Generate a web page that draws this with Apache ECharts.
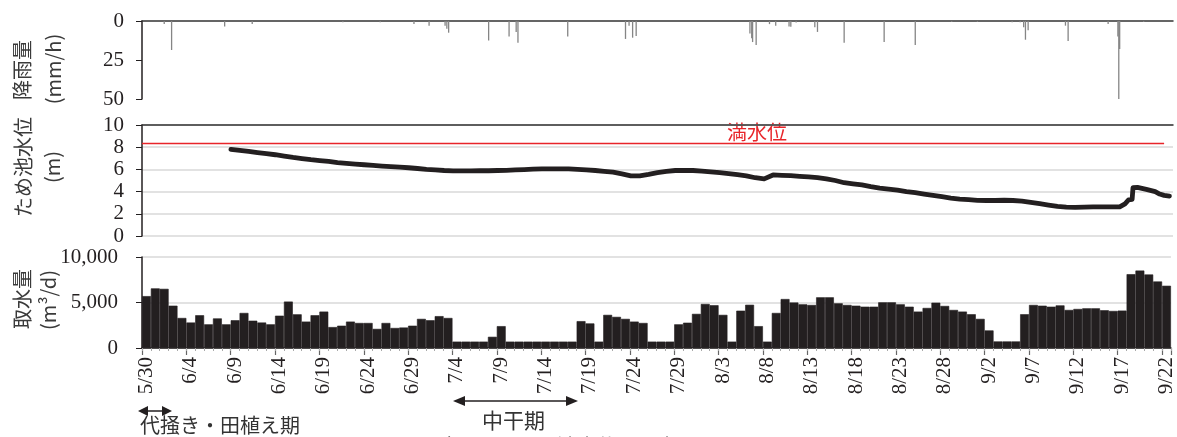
<!DOCTYPE html>
<html><head><meta charset="utf-8">
<script src="https://cdn.jsdelivr.net/npm/echarts@6/dist/echarts.min.js"></script>
<style>html,body{margin:0;padding:0;background:#fff}#c{width:1177px;height:437px}</style>
</head><body><div id="c"></div>
<script>
// ---- data ----
const START_YEAR = 2021, START_MONTH = 4, START_DAY = 30, DAY_COUNT = 116;
const categories = [];
for (let i = 0; i < DAY_COUNT; i++) {
  const d = new Date(START_YEAR, START_MONTH, START_DAY + i);
  categories.push((d.getMonth() + 1) + '/' + d.getDate());
}
// daily water intake (m3/d), one per category
const intake = [
  5700,6550,6500,4650,3300,2800,3600,2600,3250,2600,
  3050,3850,3000,2800,2600,3550,5100,3700,2900,3600,
  4000,2300,2450,2900,2750,2750,2100,2750,2200,2250,
  2450,3200,3050,3500,3300,700,700,700,700,1230,
  2400,700,700,700,700,700,700,700,700,2950,
  2700,700,3640,3420,3200,2900,2750,700,700,700,
  2600,2780,3750,4840,4700,3640,700,4100,4750,2400,
  700,3850,5380,5000,4800,4730,5570,5570,4910,4730,
  4650,4540,4540,5020,5020,4800,4540,4000,4400,4980,
  4620,4180,4000,3710,3200,1930,720,720,720,3710,
  4730,4650,4540,4680,4180,4290,4360,4360,4150,4070,
  4110,8110,8510,8080,7310,6840
];
// reservoir level (m): day offset from 5/30, value
const levelDays = [10,11,12,13,14,15,16,17,18,19,20,21,22,23,24,25,26,27,28,29,
  30,31,32,33,34,35,36,37,38,39,40,41,42,43,44,45,46,47,48,49,
  50,51,52,53,54,55,56,57,58,59,60,61,62,63,64,65,66,67,68,69,
  70,71,72,73,74,75,76,77,78,79,80,81,82,83,84,85,86,87,88,89,
  90,91,92,93,94,95,96,97,98,99,100,101,102,103,104,105,106,107,108,109,
  110,110.6,111,111.4,111.5,112,113,114,114.5,115,115.6];
const levelValues = [7.8,7.72,7.62,7.52,7.42,7.32,7.2,7.08,6.98,6.88,6.8,6.72,6.62,6.55,6.48,6.42,6.36,6.3,6.25,6.2,
  6.15,6.08,6.0,5.95,5.9,5.87,5.87,5.87,5.88,5.88,5.9,5.92,5.95,5.98,6.02,6.05,6.05,6.05,6.05,6.0,
  5.95,5.9,5.82,5.75,5.6,5.42,5.42,5.55,5.7,5.82,5.9,5.92,5.9,5.85,5.78,5.7,5.62,5.52,5.42,5.25,
  5.15,5.5,5.47,5.44,5.38,5.32,5.26,5.15,5.0,4.8,4.7,4.6,4.45,4.32,4.23,4.14,4.0,3.9,3.78,3.66,
  3.54,3.42,3.33,3.27,3.21,3.2,3.2,3.22,3.2,3.15,3.03,2.91,2.79,2.67,2.61,2.58,2.6,2.63,2.63,2.63,
  2.63,2.9,3.25,3.3,4.35,4.38,4.2,4.0,3.78,3.66,3.6];
const FULL_LEVEL = 8.4;
// hourly rainfall (mm/h): day offset from 5/30, value
const rainDays = [2.5,3.33,9.3,12.4,22.6,26.8,30.6,32.3,34.1,34.3,34.5,39.0,41.3,42.1,42.3,47.9,
  54.4,54.8,55.2,55.6,68.4,68.6,68.7,69.1,70.6,71.3,72.8,73.0,73.6,75.7,76.0,79.0,83.5,87.0,
  91.1,94.0,97.9,98.8,99.2,99.4,99.7,103.9,104.2,108.7,109.8,109.9,110.0,112.7];
const rainValues = [2,18.6,3.5,2,0.8,0.8,2,3,3,5,7.5,12.5,10,7,14,10,
  11.5,3,10.7,9.6,8,11,13.5,15.4,2,3,3.5,3.7,1,4,7,14,13.5,15.4,
  0.6,0.6,0.8,0.8,4,12,6,3,12.8,2,10,50,18,0.6];
const rainTicks = [0,25,50];
const levelTicks = [0,2,4,6,8,10];
const intakeTicks = [0,5000,10000];

// ---- chart ----
const FONT = "'Liberation Serif','Times New Roman',serif";
const JFONT = "'Noto Sans CJK JP',sans-serif";
const INK = '#231f20';
const chart = echarts.init(document.getElementById('c'), null, {renderer:'canvas'});
const yLabel = (m) => ({fontSize:21, fontFamily:FONT, color:INK, margin:m});
function arrow(x1, x2, y, head, hh) {
  return {type:'group', children:[
    {type:'line', shape:{x1:x1+head-1, y1:y, x2:x2-head+1, y2:y}, style:{stroke:INK, lineWidth:1.5}},
    {type:'polygon', shape:{points:[[x1,y],[x1+head,y-hh],[x1+head,y+hh]]}, style:{fill:INK}},
    {type:'polygon', shape:{points:[[x2,y],[x2-head,y-hh],[x2-head,y+hh]]}, style:{fill:INK}}
  ]};
}
function vtext(txt, x, y) {
  return {type:'text', x:x, y:y, rotation:Math.PI/2,
    style:{text:txt, textAlign:'center', textVerticalAlign:'middle', fontSize:20, fontFamily:JFONT, fill:'#3a3a3a'}};
}
const option = {
  animation:false,
  backgroundColor:'#fff',
  grid:[
    {left:142, top:21, width:1031, height:78},
    {left:142, top:125, width:1031, height:111},
    {left:142, top:257, width:1031, height:91}
  ],
  xAxis:[
    {gridIndex:0, type:'value', min:0, max:DAY_COUNT, position:'top',
      axisLine:{show:true, onZero:false, lineStyle:{color:'#333', width:1.5}},
      axisTick:{show:false}, axisLabel:{show:false}, splitLine:{show:false}},
    {gridIndex:1, type:'value', min:0, max:DAY_COUNT, position:'top',
      axisLine:{show:true, onZero:false, lineStyle:{color:'#333', width:1.5}},
      axisTick:{show:false}, axisLabel:{show:false}, splitLine:{show:false}},
    {gridIndex:2, type:'category', data:categories, boundaryGap:true, position:'bottom',
      axisLine:{show:true, lineStyle:{color:INK, width:1.5}},
      axisTick:{show:true, interval:4, length:7, lineStyle:{color:'#666', width:1.2}},
      axisLabel:{interval:4, rotate:90, fontSize:21, fontFamily:FONT, color:INK, margin:9},
      splitLine:{show:false}},
    {gridIndex:2, type:'category', data:categories, boundaryGap:true, position:'bottom', offset:0,
      axisLine:{show:false},
      axisTick:{show:true, interval:0, length:3, lineStyle:{color:'#aaa', width:1}},
      axisLabel:{show:false}, splitLine:{show:false}}
  ],
  yAxis:[
    {gridIndex:0, type:'value', inverse:true, min:rainTicks[0], max:rainTicks[2], interval:rainTicks[1]-rainTicks[0],
      axisLine:{show:true, lineStyle:{color:INK, width:1.5}},
      axisTick:{show:true, length:6, lineStyle:{color:INK}},
      axisLabel:yLabel(18), splitLine:{show:false}},
    {gridIndex:1, type:'value', min:levelTicks[0], max:levelTicks[5], interval:levelTicks[1]-levelTicks[0],
      axisLine:{show:true, lineStyle:{color:INK, width:1.5}},
      axisTick:{show:true, length:6, lineStyle:{color:INK}},
      axisLabel:yLabel(18), splitLine:{show:true, lineStyle:{color:'#d9d9d9', width:1.5}}},
    {gridIndex:2, type:'value', min:intakeTicks[0], max:intakeTicks[2], interval:intakeTicks[1]-intakeTicks[0],
      axisLine:{show:true, lineStyle:{color:INK, width:1.5}},
      axisTick:{show:true, length:6, lineStyle:{color:INK}},
      axisLabel:Object.assign(yLabel(24), {formatter:(v)=>v.toLocaleString('en-US')}),
      splitLine:{show:true, lineStyle:{color:'#d9d9d9', width:1.5}}}
  ],
  series:[
    {name:'rain', type:'bar', xAxisIndex:0, yAxisIndex:0, barWidth:1.3,
      data:rainDays.map((d,i)=>[d, rainValues[i]]), itemStyle:{color:'#858585'}},
    {name:'level', type:'line', xAxisIndex:1, yAxisIndex:1, showSymbol:false,
      data:levelDays.map((d,i)=>[d, levelValues[i]]),
      lineStyle:{color:INK, width:4.8, join:'round', cap:'round'},
      markLine:{silent:true, symbol:'none', label:{show:false},
        lineStyle:{color:'#e8252a', width:1.3, type:'solid'},
        data:[[{coord:[0, FULL_LEVEL]}, {coord:[DAY_COUNT-1, FULL_LEVEL]}]]}},
    {name:'intake', type:'bar', xAxisIndex:2, yAxisIndex:2, barCategoryGap:'0%',
      data:intake, itemStyle:{color:INK, borderColor:INK, borderWidth:0.6}}
  ],
  graphic:[
    vtext('降雨量', 22, 70), vtext('(mm/h)', 53, 69),
    vtext('ため池水位', 23, 167), vtext('(m)', 52, 167),
    vtext('取水量', 22, 299), vtext('(m³/d)', 48, 300),
    {type:'text', left:727, top:122, style:{text:'満水位', fontSize:20, fontFamily:JFONT, fill:'#e8252a'}},
    arrow(138, 172, 411, 10, 5),
    arrow(453, 578, 401, 12, 5),
    {type:'text', left:140, top:415, style:{text:'代掻き・田植え期', fontSize:20, fontFamily:JFONT, fill:'#333'}},
    {type:'text', left:482, top:410, style:{text:'中干期', fontSize:21, fontFamily:JFONT, fill:'#333'}},
    {type:'text', left:397, top:436, style:{text:'図　降雨量とため池水位、取水量', fontSize:20, fontFamily:JFONT, fill:'#333'}}
  ]
};
chart.setOption(option);
</script>
</body></html>
